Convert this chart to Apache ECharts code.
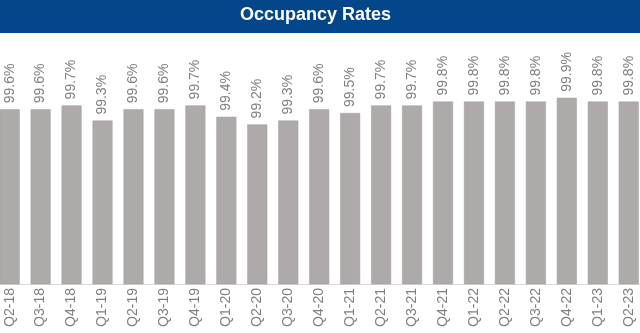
<!DOCTYPE html>
<html>
<head>
<meta charset="utf-8">
<script src="https://cdn.jsdelivr.net/npm/echarts@6/dist/echarts.min.js"></script>
<style>html,body{margin:0;padding:0;background:#fff;}#c{width:640px;height:333px;}</style>
</head>
<body>
<div id="c"></div>
<script>
const categories = ['Q2-18','Q3-18','Q4-18','Q1-19','Q2-19','Q3-19','Q4-19','Q1-20','Q2-20','Q3-20','Q4-20','Q1-21','Q2-21','Q3-21','Q4-21','Q1-22','Q2-22','Q3-22','Q4-22','Q1-23','Q2-23'];
const occupancy = [99.6,99.6,99.7,99.3,99.6,99.6,99.7,99.4,99.2,99.3,99.6,99.5,99.7,99.7,99.8,99.8,99.8,99.8,99.9,99.8,99.8];
const titleText = 'Occupancy Rates';

const chart = echarts.init(document.getElementById('c'), null, {renderer:'canvas'});
chart.setOption({
  animation: false,
  backgroundColor: '#ffffff',
  graphic: [
    {type:'rect', left:0, top:0, shape:{width:640, height:33}, style:{fill:'#03468A'}, z:0},
    {type:'text', left: 240, top: 6, style:{text: titleText, fill:'#ffffff', font:'bold 18px "Liberation Sans", Arial, sans-serif'}, z:10}
  ],
  grid: {left: -5.8, width: 650, top: 94, bottom: 49, containLabel: false, outerBoundsMode: 'none'},
  xAxis: {
    type: 'category',
    data: categories,
    axisLine: {show: true, lineStyle: {color: '#d9d9d9', width: 1}},
    axisTick: {show: false},
    axisLabel: {rotate: 90, color: '#7f7f7f', fontSize: 14, fontFamily: '"Liberation Sans", Arial, sans-serif', margin: 4}
  },
  yAxis: {type:'value', min:95, max:100, show:false},
  series: [{
    type: 'bar',
    data: occupancy,
    barWidth: 20,
    itemStyle: {color: '#aeaaa9', borderColor: '#a39f9e', borderWidth: 0.5},
    label: {
      show: true,
      position: 'top',
      rotate: 90,
      align: 'left',
      verticalAlign: 'middle',
      distance: 6,
      color: '#7f7f7f',
      fontSize: 14,
      fontFamily: '"Liberation Sans", Arial, sans-serif',
      formatter: p => p.value.toFixed(1) + '%'
    }
  }]
});
</script>
</body>
</html>
